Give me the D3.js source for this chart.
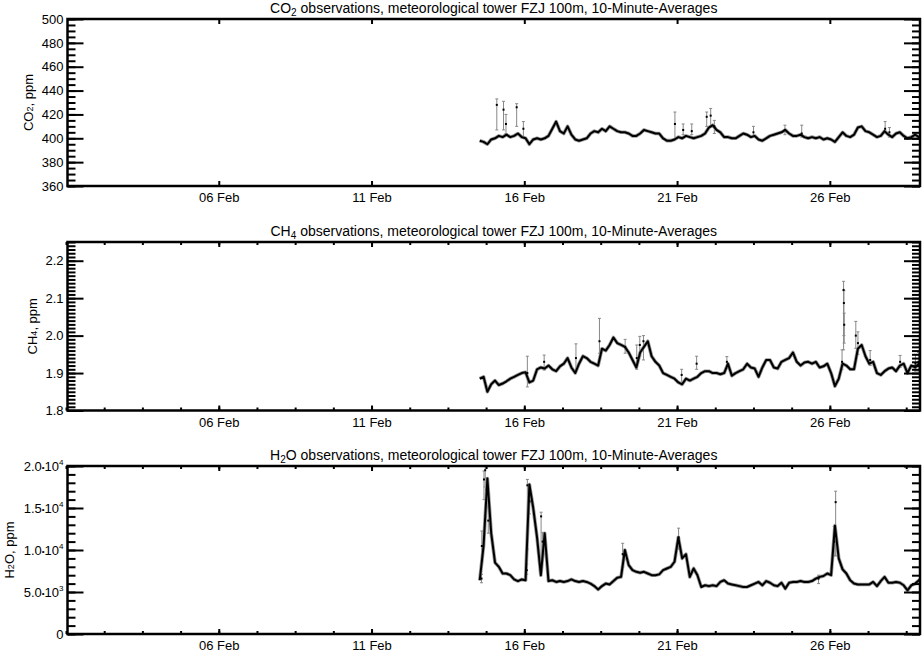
<!DOCTYPE html>
<html><head><meta charset="utf-8">
<script src="https://cdn.jsdelivr.net/npm/d3@7"></script>
<style>
body{margin:0;background:#fff}
text{font-family:"Liberation Sans",Arial,Helvetica,sans-serif;fill:#000}
</style>
</head><body>
<svg id="chart" width="923" height="652"></svg>
<script>
// ---------------- DATA ----------------
const axisStart = Date.UTC(2015, 1, 1);   // 01 Feb
const axisEnd = Date.UTC(2015, 2, 1);     // 01 Mar
const seriesStart = Date.UTC(2015, 1, 14, 13); // first plotted sample
const stepHours = 3;
const xTickLabels = ["06 Feb", "11 Feb", "16 Feb", "21 Feb", "26 Feb"];
const xTickDays = [6, 11, 16, 21, 26];

const co2Values = [398,397,395,399,400,402,401,403,401,402,404,401,400,395,399,400,399,400,402,408,
414,406,404,410,403,399,398,399,400,404,406,405,408,406,410,408,406,405,405,404,
402,402,404,407,406,405,404,404,400,398,398,399,401,400,402,401,400,401,402,404,
409,411,407,405,401,401,400,400,402,404,403,401,402,399,398,400,402,403,404,405,
407,404,402,402,403,401,400,401,400,401,399,400,399,397,401,405,402,401,403,409,
410,406,405,403,401,402,406,403,401,404,405,402,400,401,403,401,402];

const ch4Values = [1.885,1.89,1.85,1.87,1.88,1.868,1.872,1.878,1.885,1.89,1.895,1.9,1.902,1.875,1.88,1.91,1.915,1.912,1.92,1.91,
1.905,1.918,1.925,1.94,1.915,1.9,1.925,1.945,1.94,1.93,1.925,1.92,1.965,1.96,1.975,1.995,1.98,1.975,1.97,1.955,
1.935,1.915,1.955,1.97,1.985,1.945,1.93,1.92,1.9,1.895,1.89,1.885,1.875,1.87,1.885,1.88,1.885,1.89,1.9,1.905,
1.905,1.9,1.9,1.897,1.9,1.925,1.893,1.9,1.905,1.91,1.925,1.915,1.912,1.89,1.915,1.935,1.935,1.915,1.912,1.93,
1.935,1.94,1.955,1.93,1.92,1.928,1.93,1.925,1.93,1.915,1.918,1.925,1.9,1.865,1.885,1.925,1.92,1.91,1.91,1.965,
1.975,1.945,1.925,1.93,1.9,1.895,1.905,1.912,1.915,1.905,1.92,1.925,1.9,1.92,1.915,1.925,1.91];

const h2oValues = [6400,10500,18500,12000,8500,8000,7200,7200,7000,6500,6300,6500,6400,17800,15000,11500,7000,12000,6300,6400,
6200,6300,6200,6300,6500,6300,6200,6300,6200,6000,5700,5300,5700,6000,5900,6300,6700,6800,10000,8200,
7600,7400,7300,7400,7200,7000,7000,7100,7600,7800,8000,8600,11500,9000,9500,6800,7800,7000,5600,5800,
5700,5800,5700,6200,6400,6000,5900,5800,5700,5600,5600,5800,6000,6200,5800,6300,6100,5800,5700,6100,
5400,6100,6200,6200,6300,6200,6200,6300,6600,6800,6900,7200,7000,12900,9000,7700,7200,6400,6000,5900,
5900,5900,5900,6200,5700,6300,6800,6100,6100,6200,6100,5800,5200,5800,6000,6400,6800];

// error bars: [days since 01 Feb, value, low, high]
const co2ErrorBars = [[14.10,428,407,433],[14.32,424,407,431],[14.40,412,404,420],[14.75,426,410,429],
[14.97,408,401,414],[19.93,412,399,422],[20.20,407,403,412],[20.48,406,403,412],[20.97,418,410,422],
[21.10,419,410,425],[21.22,410,404,415],[22.50,405,401,410],[23.53,407,403,411],[24.08,404,401,411],
[26.81,408,404,414],[26.95,405,401,409]];
const ch4ErrorBars = [[15.10,1.90,1.863,1.945],[15.65,1.93,1.908,1.948],[16.69,1.94,1.908,1.978],
[17.46,1.985,1.953,2.046],[18.30,1.97,1.953,1.99],[18.68,1.94,1.91,1.975],[18.78,1.975,1.945,1.998],
[18.90,1.985,1.935,2.0],[20.15,1.895,1.87,1.91],[20.64,1.925,1.91,1.945],[21.63,1.93,1.913,1.944],
[25.45,2.122,1.962,2.145],[25.46,2.087,2.0,2.12],[25.47,2.029,1.98,2.06],[25.40,1.93,1.91,1.962],
[25.85,2.0,1.966,2.038],[25.92,1.98,1.95,2.01],[26.32,1.935,1.92,1.96],[27.30,1.93,1.915,1.947],
[27.80,1.925,1.905,1.95],[27.90,1.93,1.905,1.955]];
const h2oErrorBars = [[13.61,10476,8690,12262],[13.60,6600,6100,7100],[13.68,18400,16000,19400],
[13.72,19500,17500,20000],[13.77,17200,15800,18600],[13.82,13500,12000,16000],[15.10,17700,10100,18400],
[15.08,7600,7100,8300],[15.17,15800,14300,17000],[15.55,14000,8500,14500],[15.60,11000,9900,12100],
[18.22,9500,8000,10800],[20.05,11500,10100,12600],[25.19,15700,9300,17000],[25.14,11000,9300,12800],
[24.63,6600,6000,7000]];

const co2Ticks = [360,380,400,420,440,460,480,500];
const co2TickLabels = ["360","380","400","420","440","460","480","500"];
const ch4Ticks = [1.8,1.9,2.0,2.1,2.2];
const ch4TickLabels = ["1.8","1.9","2.0","2.1","2.2"];
const h2oTicks = [0,5000,10000,15000,20000];
const h2oTickMantissa = ["0","5.0","1.0","1.5","2.0"];
const h2oTickExponent = ["","3","4","4","4"];

// ---------------- LAYOUT ----------------
const svg = d3.select("#chart");
const L = 67.5, R = 920;
const x = d3.scaleUtc().domain([axisStart, axisEnd]).range([66, 921.5]);
const DAY = 86400000;
const sampleTime = i => seriesStart + i * stepHours * 3600000;
const errTime = t => axisStart + t * DAY;

const panels = [
  {gas:"CO", sub:"2", top:19, bottom:186, domain:[360,500], ticks:co2Ticks, labels:co2TickLabels,
   minorStep:5, values:co2Values, err:co2ErrorBars, xMinor:false, labelX:28},
  {gas:"CH", sub:"4", top:242, bottom:410.5, domain:[1.8,2.25], ticks:ch4Ticks, labels:ch4TickLabels,
   minorStep:0.01, values:ch4Values, err:ch4ErrorBars, xMinor:true, labelX:32},
  {gas:"H", sub:"2", post:"O", top:466, bottom:634, domain:[0,20000], ticks:h2oTicks, labels:null,
   minorStep:1000, values:h2oValues, err:h2oErrorBars, xMinor:true, labelX:9}
];

const xMajor = xTickDays.map(d => Date.UTC(2015, 1, d));
const xMinorTicks = d3.range(0, 28.01, 1.25).map(d => axisStart + d * DAY);

panels.forEach((p, pi) => {
  const y = d3.scaleLinear().domain(p.domain).range([p.bottom, p.top]);
  const g = svg.append("g");
  const clipId = "clip" + pi;
  svg.append("clipPath").attr("id", clipId).append("rect")
    .attr("x", L).attr("y", p.top).attr("width", R - L).attr("height", p.bottom - p.top);

  // title
  const title = g.append("text").attr("x", (L + R) / 2).attr("y", p.top - 6)
    .attr("text-anchor", "middle").style("font-size", "14px");
  title.append("tspan").text(p.gas);
  title.append("tspan").text(p.sub).attr("baseline-shift", "-25%").style("font-size", "10px");
  title.append("tspan").text((p.post || "") + " observations, meteorological tower FZJ 100m, 10-Minute-Averages");

  // y label
  const yl = g.append("text")
    .attr("transform", `translate(${p.labelX},${(p.top + p.bottom) / 2}) rotate(-90)`)
    .attr("text-anchor", "middle").attr("dominant-baseline", "central").style("font-size", "13px");
  yl.append("tspan").text(p.gas);
  yl.append("tspan").text(p.sub).attr("baseline-shift", "-25%").style("font-size", "9px");
  yl.append("tspan").text((p.post || "") + ", ppm");

  // data
  const dg = g.append("g").attr("clip-path", `url(#${clipId})`);
  const pts = p.values.map((v, i) => [sampleTime(i), v]);
  const line = d3.line().x(d => x(d[0])).y(d => y(d[1]));
  dg.append("path").datum(pts).attr("d", line).attr("fill", "none")
    .attr("stroke", "#999").attr("stroke-width", 3.6).attr("stroke-linejoin", "round");
  dg.selectAll(".eb").data(p.err).join("path").attr("class", "eb")
    .attr("d", d => {
      const xx = x(errTime(d[0])), y1 = y(d[2]), y2 = y(d[3]);
      return `M${xx},${y1}V${y2}M${xx - 1.5},${y1}H${xx + 1.5}M${xx - 1.5},${y2}H${xx + 1.5}`;
    })
    .attr("stroke", "#888").attr("stroke-width", 1).attr("fill", "none");
  dg.append("path").datum(pts).attr("d", line).attr("fill", "none")
    .attr("stroke", "#000").attr("stroke-width", 2).attr("stroke-linejoin", "round");
  dg.selectAll(".ec").data(p.err).join("rect").attr("class", "ec")
    .attr("x", d => x(errTime(d[0])) - 1).attr("y", d => y(d[1]) - 1)
    .attr("width", 2).attr("height", 2).attr("fill", "#000");

  // y axes
  const minorVals = d3.range(p.domain[0], p.domain[1] + p.minorStep / 2, p.minorStep);
  const styleAxis = sel => {
    sel.select(".domain").remove();
    sel.selectAll("line").attr("stroke", "#000").attr("stroke-width", 2);
    sel.selectAll("text").style("font-size", "13px").attr("font-family", null);
    sel.attr("font-family", null).attr("font-size", null);
  };
  g.append("g").attr("transform", `translate(${L},0)`)
    .call(d3.axisLeft(y).tickValues(minorVals).tickSize(-8).tickFormat("")).call(styleAxis);
  g.append("g").attr("transform", `translate(${R},0)`)
    .call(d3.axisRight(y).tickValues(minorVals).tickSize(-8).tickFormat("")).call(styleAxis);
  const ya = g.append("g").attr("transform", `translate(${L},0)`)
    .call(d3.axisLeft(y).tickValues(p.ticks).tickSize(-16).tickPadding(4)
      .tickFormat((d, i) => p.labels ? p.labels[i] : ""))
    .call(styleAxis);
  if (!p.labels) {
    ya.selectAll(".tick text").each(function (d, i) {
      const t = d3.select(this);
      t.text(null);
      t.append("tspan").text(h2oTickMantissa[i]);
      if (h2oTickExponent[i]) {
        t.append("tspan").text("\u2022").style("font-size", "8px").attr("dy", "-1");
        t.append("tspan").text("10").style("font-size", "13px").attr("dy", "1");
        t.append("tspan").text(h2oTickExponent[i]).style("font-size", "8px").attr("dy", "-6");
      }
    });
  }
  g.append("g").attr("transform", `translate(${R},0)`)
    .call(d3.axisRight(y).tickValues(p.ticks).tickSize(-16).tickFormat("")).call(styleAxis);

  // x axes
  if (p.xMinor) {
    g.append("g").attr("transform", `translate(0,${p.bottom})`)
      .call(d3.axisBottom(x).tickValues(xMinorTicks).tickSize(-3).tickFormat("")).call(styleAxis);
    g.append("g").attr("transform", `translate(0,${p.top})`)
      .call(d3.axisTop(x).tickValues(xMinorTicks).tickSize(-3).tickFormat("")).call(styleAxis);
  }
  g.append("g").attr("transform", `translate(0,${p.bottom})`)
    .call(d3.axisBottom(x).tickValues(xMajor).tickSize(-5).tickPadding(7)
      .tickFormat((d, i) => xTickLabels[i])).call(styleAxis);
  g.append("g").attr("transform", `translate(0,${p.top})`)
    .call(d3.axisTop(x).tickValues(xMajor).tickSize(-5).tickFormat("")).call(styleAxis);

  // frame
  g.append("rect").attr("x", L).attr("y", p.top).attr("width", R - L).attr("height", p.bottom - p.top)
    .attr("fill", "none").attr("stroke", "#000").attr("stroke-width", 2.5);
});
</script>
</body></html>
